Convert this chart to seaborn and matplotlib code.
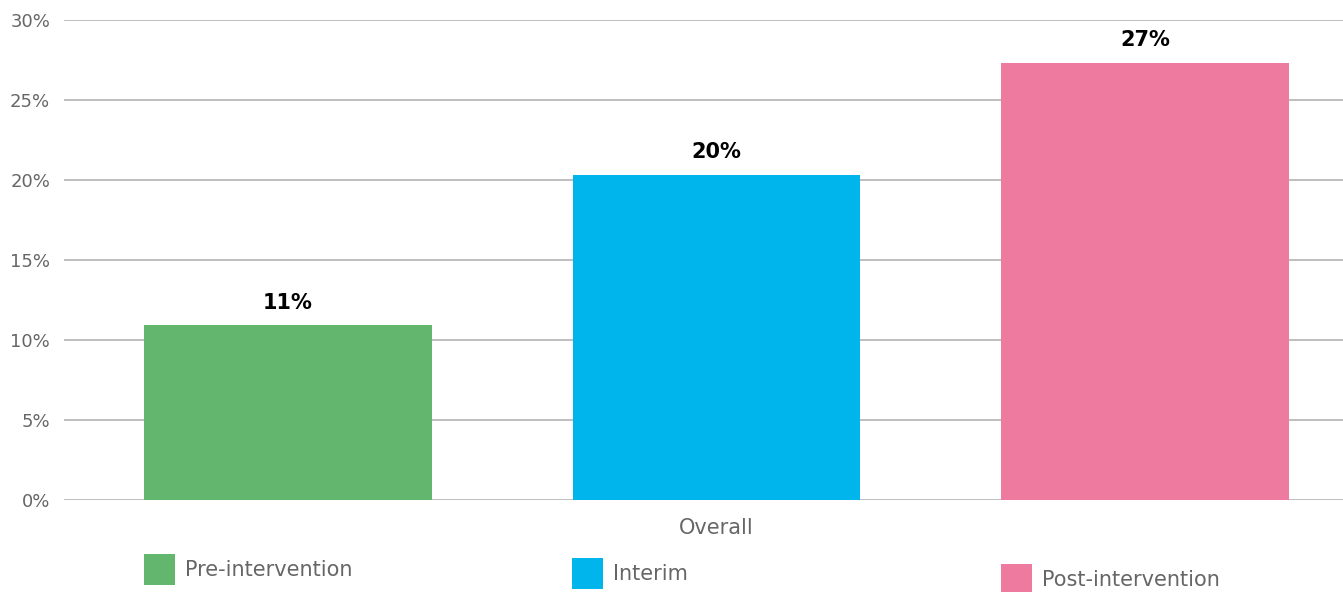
import matplotlib
matplotlib.use("Agg")
import matplotlib.pyplot as plt
import seaborn as sns
import pandas as pd
from matplotlib.patches import Rectangle

categories = ["Overall"]
series = ["Pre-intervention", "Interim", "Post-intervention"]
values = [10.9, 20.3, 27.3]
colors = ["#63b66e", "#00b5ec", "#ef7aa0"]
yticks = [0, 5, 10, 15, 20, 25, 30]

df = pd.DataFrame({"group": categories * len(series), "series": series, "value": values})

sns.set_theme(style="white")
plt.rcParams["font.family"] = ["DejaVu Sans"]

W, H = 1343, 592
fig = plt.figure(figsize=(W / 100, H / 100), dpi=100)
ax = fig.add_axes([64 / W, 92 / H, (W - 64) / W, 480.3 / H])

sns.barplot(data=df, x="group", y="value", hue="series", hue_order=series,
            palette=colors, width=1.0, gap=0.328, saturation=1, legend=False,
            linewidth=0, ax=ax)

ax.set_xlim(-0.5076, 0.4874)
ax.set_ylim(0, 30)
ax.set_yticks(yticks)
ax.set_yticklabels([f"{t}%" for t in yticks])
ax.yaxis.grid(True, color="#b3b3b3", linewidth=1.2)
ax.set_axisbelow(True)
for s in ax.spines.values():
    s.set_visible(False)
ax.tick_params(axis="y", length=0, pad=10, labelsize=13, labelcolor="#666666")
ax.tick_params(axis="x", length=0, pad=13, labelsize=15, labelcolor="#666666")
ax.set_xlabel("")
ax.set_ylabel("")

for cont in ax.containers:
    ax.bar_label(cont, labels=[f"{round(v)}%" for v in cont.datavalues],
                 padding=9, fontsize=15, fontweight="bold", color="black")

# staggered legend below the axis
legend_pos = [(144, 554), (572, 558), (1001, 564)]
for (x0, y0), name, c in zip(legend_pos, series, colors):
    fig.add_artist(Rectangle((x0 / W, 1 - (y0 + 31) / H), 31 / W, 31 / H,
                             transform=fig.transFigure, color=c, lw=0))
    fig.text((x0 + 41) / W, 1 - (y0 + 16) / H, name, ha="left", va="center",
             fontsize=15, color="#666666")

fig.savefig("out.png", dpi=100)
